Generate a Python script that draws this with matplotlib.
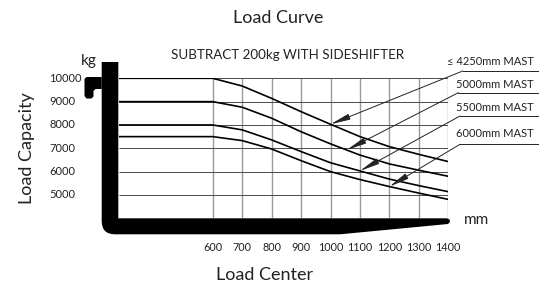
import matplotlib
matplotlib.use("Agg")
import matplotlib.pyplot as plt
import matplotlib.transforms as mtransforms
from matplotlib.path import Path
from matplotlib.patches import PathPatch
from matplotlib.lines import Line2D
import numpy as np

plt.rcParams['font.family'] = ['Lato', 'DejaVu Sans']

# Load center (mm) and capacity (kg) for each mast height
load_center = [600, 700, 800, 900, 1000, 1100, 1200, 1300, 1400]
cap_4250 = [10000, 9670, 9140, 8570, 8030, 7500, 7070, 6740, 6430]
cap_5000 = [9000, 8760, 8290, 7710, 7190, 6710, 6330, 6060, 5800]
cap_5500 = [8000, 7790, 7360, 6860, 6380, 6030, 5680, 5400, 5140]
cap_6000 = [7500, 7330, 6970, 6470, 6000, 5660, 5360, 5080, 4810]
mast_labels = ["\u2264 4250mm MAST", "5000mm MAST", "5500mm MAST", "6000mm MAST"]
kg_ticks = [10000, 9000, 8000, 7000, 6000, 5000]
arrow_at = [1000, 1055, 1100, 1200]  # load center where each leader touches its curve

W, H = 548, 283
TXT = '#222222'


def px(x, y):
    # pixel position (y down) -> figure fraction
    return x / W, 1 - y / H


fig = plt.figure(figsize=(W / 100, H / 100), dpi=100)
ax = fig.add_axes([118.5 / W, 1 - 218.3 / H, 329.8 / W, 140 / H])
x_left = 280
ax.set_xlim(x_left, 1400)
ax.set_ylim(4000, 10000)
ax.axis('off')

# grid
ax.vlines(load_center, 4000, 10000, color='#9a9a9a', lw=1.0, zorder=1)
ax.hlines(kg_ticks, x_left, 1400, color='#4a4a4a', lw=0.7, zorder=1)

# load curves, flat up to 600 mm
curves = [cap_4250, cap_5000, cap_5500, cap_6000]
for cap in curves:
    ax.plot(np.r_[x_left, load_center], np.r_[cap[0], cap], color='black', lw=1.2, zorder=3,
            solid_joinstyle='round')

# tick labels
left_tr = mtransforms.blended_transform_factory(fig.transFigure, ax.transData)
for v in kg_ticks:
    ax.text(49 / W, v, str(v), transform=left_tr, ha='left', va='center', fontsize=8, color=TXT)
bottom_tr = mtransforms.blended_transform_factory(ax.transData, fig.transFigure)
for v in load_center:
    ax.text(v, 1 - 247.7 / H, str(v), transform=bottom_tr, ha='center', va='center', fontsize=7.8, color=TXT)

# fork (the black L shape)
verts = [px(101.7, 62), px(118.3, 62), px(118.3, 218.3), px(447, 218.3), px(449.5, 219.5),
         px(450, 221.8), px(448, 224), px(340, 234.3), px(115, 234.3), px(101.7, 234.3),
         px(101.7, 221), px(101.7, 62)]
codes = [Path.MOVETO] + [Path.LINETO] * 8 + [Path.CURVE3, Path.CURVE3, Path.CLOSEPOLY]
fig.add_artist(PathPatch(Path(verts, codes), transform=fig.transFigure, fc='black', ec='none', zorder=5))
hook = [px(101.7, 77), px(86.5, 77), px(84.5, 79), px(84.5, 96), px(86.5, 98.5), px(91.5, 98.5),
        px(93.5, 96.5), px(93.5, 91), px(95.5, 89), px(101.7, 89), px(101.7, 77)]
fig.add_artist(PathPatch(Path(hook, [Path.MOVETO] + [Path.LINETO] * 9 + [Path.CLOSEPOLY]),
                         transform=fig.transFigure, fc='black', ec='none', zorder=5))

# mast labels with underline and leader arrow
label_y = [61.3, 84.2, 107.5, 133.8]
line_y = [71, 92.7, 116, 144.3]
line_x0 = [462.7, 458.3, 460, 460]
for cap, lab, ly, uy, ux, ax_x in zip(curves, mast_labels, label_y, line_y, line_x0, arrow_at):
    fig.text(*px(534, ly), lab, ha='right', va='center', fontsize=8, color=TXT)
    fig.add_artist(Line2D([ux / W, 538 / W], [1 - uy / H] * 2, transform=fig.transFigure,
                          color=TXT, lw=0.7))
    tip_y = np.interp(ax_x, load_center, cap)
    ax.annotate('', xy=(ax_x, tip_y), xycoords='data', xytext=px(ux, uy), textcoords='figure fraction',
                arrowprops=dict(arrowstyle='-|>,head_length=1.2,head_width=0.18', color=TXT, lw=0.7,
                                shrinkA=0, shrinkB=0),
                annotation_clip=False, zorder=4)

# titles and axis labels
fig.text(*px(278, 18), "Load Curve", ha='center', va='center', fontsize=13, color=TXT)
fig.text(*px(288, 54.7), "SUBTRACT 200kg WITH SIDESHIFTER", ha='center', va='center', fontsize=9.6, color=TXT)
fig.text(*px(89, 61), "kg", ha='center', va='center', fontsize=11, color=TXT)
fig.text(*px(476.7, 220), "mm", ha='center', va='center', fontsize=11, color=TXT)
fig.text(*px(265, 275), "Load Center", ha='center', va='center', fontsize=13, color=TXT)
fig.text(*px(27, 148), "Load Capacity", ha='center', va='center', rotation=90, fontsize=13, color=TXT)

plt.savefig("out.png", dpi=100)
